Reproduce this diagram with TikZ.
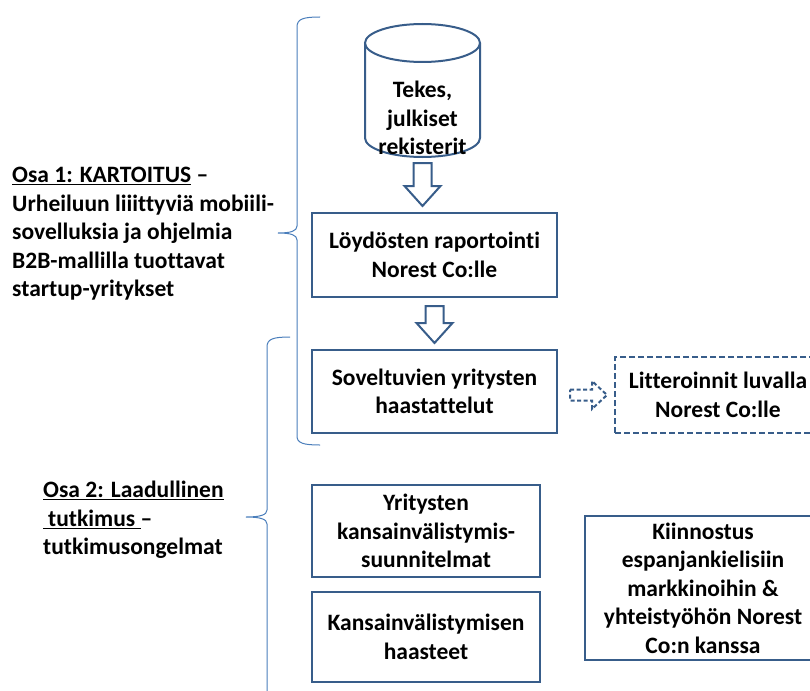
\documentclass[tikz,border=0pt]{standalone}
\usepackage{fontspec}
\setmainfont{Carlito}[Ligatures={TeX,NoCommon}]
\usepackage{tikz}
\usetikzlibrary{calc}

\definecolor{boxblue}{HTML}{385D8A}
\definecolor{braceblue}{HTML}{4A7EBB}

% hollow block arrows between nodes
\newcommand\blockdown[3][]{%
  \draw[blockarrow,#1] let \p1=($(#2.south)+(0,-8)$), \p2=($(#3.north)+(0,6)$) in
    (\x1-9pt,\y1) -- (\x1+9pt,\y1) -- (\x1+9pt,\y2+20pt) -- (\x1+18pt,\y2+20pt)
    -- (\x1,\y2) -- (\x1-18pt,\y2+20pt) -- (\x1-9pt,\y2+20pt) -- cycle;}
\newcommand\blockright[3][]{%
  \draw[blockarrow,#1] let \p1=($(#2.east)+(12,0)$), \p2=($(#3.west)+(-7,0)$) in
    (\x1,\y2+5.5pt) -- (\x2-15pt,\y2+5.5pt) -- (\x2-15pt,\y2+14pt) -- (\x2,\y2)
    -- (\x2-15pt,\y2-14pt) -- (\x2-15pt,\y2-5.5pt) -- (\x1,\y2-5.5pt) -- cycle;}

\begin{document}
\begin{tikzpicture}[x=1pt, y=1pt,
    lbl/.style={font=\fontsize{23.5}{28.5}\selectfont\bfseries, align=center, inner sep=0pt},
    box/.style={lbl, draw=boxblue, line width=2pt, fill=white},
    dbline/.style={draw=boxblue, line width=2pt, fill=white},
    brace/.style={draw=braceblue, line width=1pt},
    blockarrow/.style={draw=boxblue, line width=2pt, fill=white, line join=miter}]
	\useasboundingbox (0,0) rectangle (810,-690);
	\clip (0,0) rectangle (810,-690);

	% Braces
	\draw[brace] (320,-17) .. controls (303,-17) and (297,-19) .. (297,-27) -- (297,-226)
		.. controls (297,-231) and (291,-233) .. (278,-233)
		.. controls (291,-233) and (297,-235) .. (297,-240) -- (297,-436)
		.. controls (297,-443) and (303,-445) .. (320,-445);
	\draw[brace] (290,-337) .. controls (273,-337) and (267,-339) .. (267,-347) -- (267,-510)
		.. controls (267,-515) and (260,-517) .. (246,-517)
		.. controls (260,-517) and (267,-519) .. (267,-524) -- (267,-700);

	% Database
	\draw[dbline] (365,-43) -- (365,-138) arc[start angle=180, end angle=360, x radius=57.5pt, y radius=19pt] -- (480,-43);
	\draw[dbline] (422.5,-43) ellipse [x radius=57.5pt, y radius=19pt];
	\node[lbl] (db) at (422.5,-118) {Tekes,\\julkiset\\rekisterit};

	% Boxes
	\node[box, minimum width=245pt, minimum height=84pt] (raportti) at (434.5,-255) {Löydösten raportointi\\Norest Co:lle};
	\node[box, minimum width=245pt, minimum height=83pt] (haastattelut) at (434.5,-391.5) {Soveltuvien yritysten\\haastattelut};
	\node[box, dash pattern=on 6pt off 3pt, minimum width=206pt, minimum height=76pt] (litterointi) at (718,-395) {Litteroinnit luvalla\\Norest Co:lle};
	\node[box, minimum width=228pt, minimum height=92pt] (suunnitelmat) at (426,-531) {Yritysten\\kansainvälistymis-\\suunnitelmat};
	\node[box, minimum width=228pt, minimum height=90pt] (haasteet) at (426,-637) {Kansainvälistymisen\\haasteet};
	\node[box, minimum width=236pt, minimum height=144pt] (kiinnostus) at (703,-588) {Kiinnostus\\espanjankielisiin\\markkinoihin \&\\yhteistyöhön Norest\\Co:n kanssa};

	% Arrows
	\blockdown{db}{raportti}
	\blockdown{raportti}{haastattelut}
	\blockright[dash pattern=on 4pt off 2.5pt]{haastattelut}{litterointi}

	% Part labels
	\node[lbl, align=left, anchor=west] (osa1) at (12,-234) {\underline{Osa 1: KARTOITUS} –\\Urheiluun liiittyviä mobiili-\\sovelluksia ja ohjelmia\\B2B-mallilla tuottavat\\startup-yritykset};
	\node[lbl, align=left, anchor=west] (osa2) at (43,-520) {\underline{Osa 2: Laadullinen}\\\underline{\hspace{5pt}tutkimus\ }–\\tutkimusongelmat};
\end{tikzpicture}
\end{document}
